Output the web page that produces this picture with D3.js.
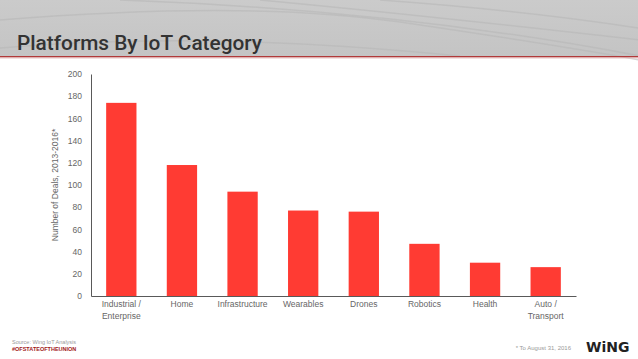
<!DOCTYPE html>
<html>
<head>
<meta charset="utf-8">
<script src="https://cdn.jsdelivr.net/npm/d3@7"></script>
<style>
  body { margin: 0; background: #fff; }
  svg { display: block; }
</style>
</head>
<body>
<div id="chart"></div>
<script>
// data
var categories = [["Industrial /", "Enterprise"], ["Home"], ["Infrastructure"], ["Wearables"],
                  ["Drones"], ["Robotics"], ["Health"], ["Auto /", "Transport"]];
var deals = [174, 118, 94, 77, 76, 47, 30, 26];
var yTicks = [0, 20, 40, 60, 80, 100, 120, 140, 160, 180, 200];

var W = 638, H = 359;
var svg = d3.select("#chart").append("svg")
    .attr("width", W).attr("height", H);

// header band
var grad = svg.append("defs").append("linearGradient")
    .attr("id", "hdr").attr("x1", 0).attr("y1", 0).attr("x2", 0).attr("y2", 1);
grad.append("stop").attr("offset", 0).attr("stop-color", "#cbcbcb");
grad.append("stop").attr("offset", 1).attr("stop-color", "#c4c4c4");
svg.append("rect").attr("x", 0).attr("y", 0).attr("width", W).attr("height", 56)
    .attr("fill", "url(#hdr)");

// faint curves in the header
var curves = [
  "M0,20 Q250,0 400,22 T640,60",
  "M120,0 Q400,10 640,56",
  "M260,0 Q420,15 640,40",
  "M0,48 Q200,30 460,56",
  "M380,0 Q520,10 638,28"
];
svg.append("g").selectAll("path").data(curves).enter().append("path")
    .attr("d", function(d) { return d; })
    .attr("fill", "none").attr("stroke", "#b8b8b8").attr("stroke-width", 1.5).attr("opacity", 0.6);

svg.append("rect").attr("x", 0).attr("y", 56).attr("width", W).attr("height", 1.5).attr("fill", "#b03a3a");
svg.append("rect").attr("x", 0).attr("y", 57.5).attr("width", W).attr("height", 1).attr("fill", "#e8c4c4");

svg.append("text").attr("x", 17).attr("y", 50)
    .attr("font-family", "Roboto, sans-serif")
    .attr("font-size", 21).attr("font-weight", 500).attr("fill", "#333")
    .attr("textLength", 245).attr("lengthAdjust", "spacingAndGlyphs")
    .text("Platforms By IoT Category");

// plot area
var x0 = 91, x1 = 576, yTop = 74, yBot = 296;
var x = d3.scaleBand().domain(d3.range(categories.length)).range([x0, x1]).paddingInner(0.5).paddingOuter(0.25);
var y = d3.scaleLinear().domain([0, 200]).range([yBot, yTop]);

var g = svg.append("g");

g.selectAll(".bar").data(deals).enter().append("rect")
    .attr("class", "bar")
    .attr("x", function(d, i) { return x(i); })
    .attr("y", function(d) { return y(d); })
    .attr("width", x.bandwidth())
    .attr("height", function(d) { return yBot - y(d); })
    .attr("fill", "#ff3b33");

var yAxis = g.append("g").attr("transform", "translate(" + x0 + ",0)")
    .call(d3.axisLeft(y).tickValues(yTicks).tickSize(0).tickPadding(9));
yAxis.select(".domain").attr("stroke", "#595959").attr("stroke-width", 1);
yAxis.selectAll("text").attr("font-family", "Liberation Sans, Arial, sans-serif")
    .attr("font-size", 8.5).attr("fill", "#666");

var xAxis = g.append("g").attr("transform", "translate(0," + yBot + ")")
    .call(d3.axisBottom(x).tickSize(0).tickFormat(""));
xAxis.select(".domain").attr("stroke", "#595959").attr("stroke-width", 1);

g.selectAll(".cat").data(categories).enter().append("text")
    .attr("class", "cat")
    .attr("text-anchor", "middle")
    .attr("font-family", "Liberation Sans, Arial, sans-serif")
    .attr("font-size", 8.5).attr("fill", "#666")
    .each(function(d, i) {
      var t = d3.select(this);
      d.forEach(function(line, k) {
        t.append("tspan").attr("x", x(i) + x.bandwidth() / 2).attr("y", yBot + 11 + k * 12).text(line);
      });
    });

svg.append("text")
    .attr("transform", "translate(58," + ((yTop + yBot) / 2) + ") rotate(-90)")
    .attr("text-anchor", "middle")
    .attr("font-family", "Liberation Sans, Arial, sans-serif")
    .attr("font-size", 8.5).attr("fill", "#666")
    .text("Number of Deals, 2013-2016*");

// footer
svg.append("text").attr("x", 12).attr("y", 344)
    .attr("font-family", "Liberation Sans, Arial, sans-serif").attr("font-size", 5.5).attr("fill", "#9a9a9a")
    .text("Source: Wing IoT Analysis");
svg.append("text").attr("x", 12).attr("y", 351)
    .attr("font-family", "Liberation Sans Narrow, Arial, sans-serif").attr("font-size", 5.5)
    .attr("font-weight", "bold").attr("fill", "#a01818")
    .text("#OFSTATEOFTHEUNION");
svg.append("text").attr("x", 571).attr("y", 350).attr("text-anchor", "end")
    .attr("font-family", "Liberation Sans, Arial, sans-serif").attr("font-size", 6).attr("fill", "#9a9a9a")
    .text("* To August 31, 2016");
svg.append("text").attr("x", 586).attr("y", 352)
    .attr("font-family", "DejaVu Sans, sans-serif").attr("font-size", 14).attr("font-weight", "bold")
    .attr("fill", "#222")
    .text("WiNG");
</script>
</body>
</html>
